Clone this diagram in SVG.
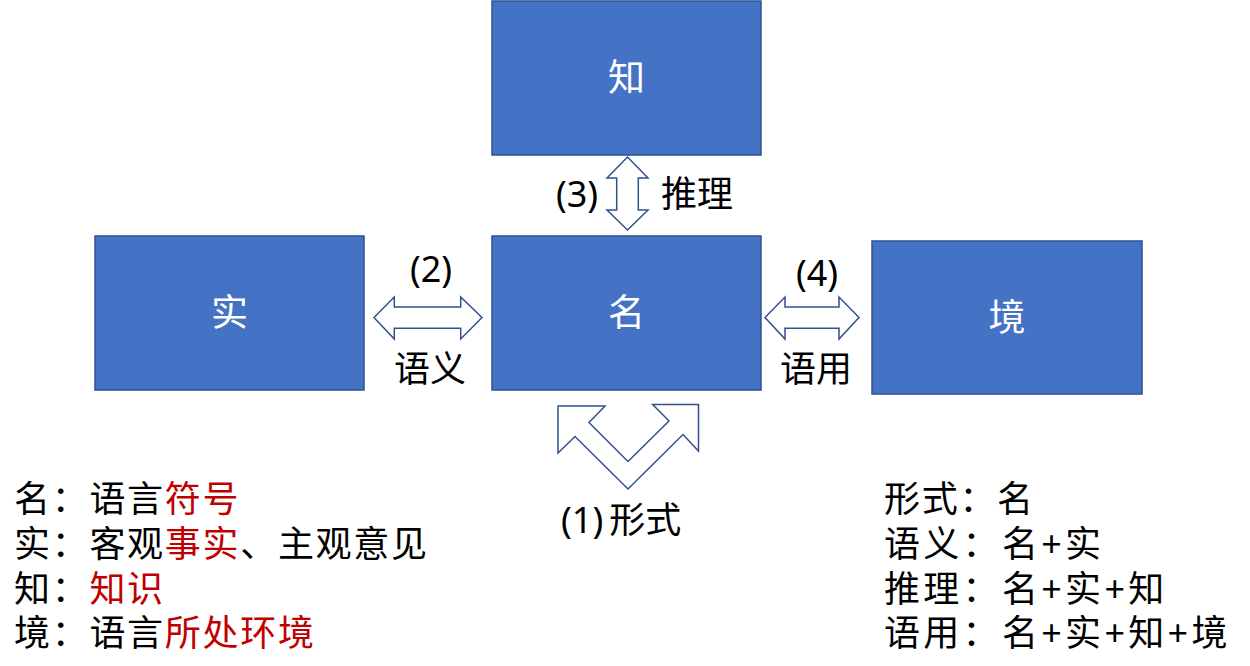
<svg xmlns="http://www.w3.org/2000/svg" width="1250" height="666" viewBox="0 0 1250 666">
<style>
.box{fill:#4472C4;stroke:#2F528F;stroke-width:1.5}
.bt{fill:#FFFFFF;font-family:"Noto Sans","Noto Sans CJK SC",sans-serif;font-size:37px;text-anchor:middle}
.arr{fill:#FFFFFF;stroke:#2F528F;stroke-width:1.5;stroke-linejoin:miter}
.t{fill:#000000;font-family:"Noto Sans","Noto Sans CJK SC",sans-serif;font-size:36px}
.l{letter-spacing:1.7px}
.w{letter-spacing:3.3px}
.c{text-anchor:middle}
.r{fill:#C00000}
</style>
<rect width="1250" height="666" fill="#FFFFFF"/>
<g id="node-zhi"><rect class="box" x="492" y="1" width="269" height="154"/><text class="bt" x="626.5" y="91">知</text></g>
<g id="node-shi"><rect class="box" x="95" y="236" width="269" height="154"/><text class="bt" x="229.5" y="326">实</text></g>
<g id="node-ming"><rect class="box" x="492" y="236" width="269" height="154"/><text class="bt" x="626.5" y="326">名</text></g>
<g id="node-jing"><rect class="box" x="872" y="241" width="270" height="153"/><text class="bt" x="1007" y="331">境</text></g>
<g id="connectors">
<polygon id="arrow-3" class="arr" points="627.5,157 648,178 638.3,178 638.3,210 648,210 627.5,230 607,210 616.7,210 616.7,178 607,178"/>
<polygon id="arrow-2" class="arr" points="374,317.5 394.3,297 394.3,307 460.7,307 460.7,297 482,317.5 460.7,339 460.7,328.3 394.3,328.3 394.3,339"/>
<polygon id="arrow-4" class="arr" points="765,317.5 785,297 785,307 839,307 839,297 859,317.5 839,339 839,328.3 785,328.3 785,339"/>
<polygon id="arrow-1" class="arr" points="558,406 605,406 589,422.5 628,461.5 669,421 652.7,404.5 698.5,404.5 698.5,451 683,434.5 628,489 575,436.5 558,453"/>
<text class="t c" x="431" y="282">(2)</text>
<text class="t c" x="430" y="382">语义</text>
<text class="t c" x="817" y="286">(4)</text>
<text class="t c" x="816" y="382">语用</text>
<text class="t c" x="577" y="207">(3)</text>
<text class="t c" x="697" y="207">推理</text>
<text class="t" x="561" y="533">(1)<tspan dx="6">形式</tspan></text>
</g>
<g id="legend-left">
<text class="t l" x="14" y="512">名：语言<tspan class="r">符号</tspan></text>
<text class="t l" x="14" y="557">实：客观<tspan class="r">事实</tspan>、主观意见</text>
<text class="t l" x="14" y="602">知：<tspan class="r">知识</tspan></text>
<text class="t l" x="14" y="646">境：语言<tspan class="r">所处环境</tspan></text>
</g>
<g id="legend-right">
<text class="t l" x="884" y="512">形式：名</text>
<text class="t w" x="884" y="557">语义：名+实</text>
<text class="t w" x="884" y="602">推理：名+实+知</text>
<text class="t w" x="884" y="646">语用：名+实+知+境</text>
</g>
</svg>
